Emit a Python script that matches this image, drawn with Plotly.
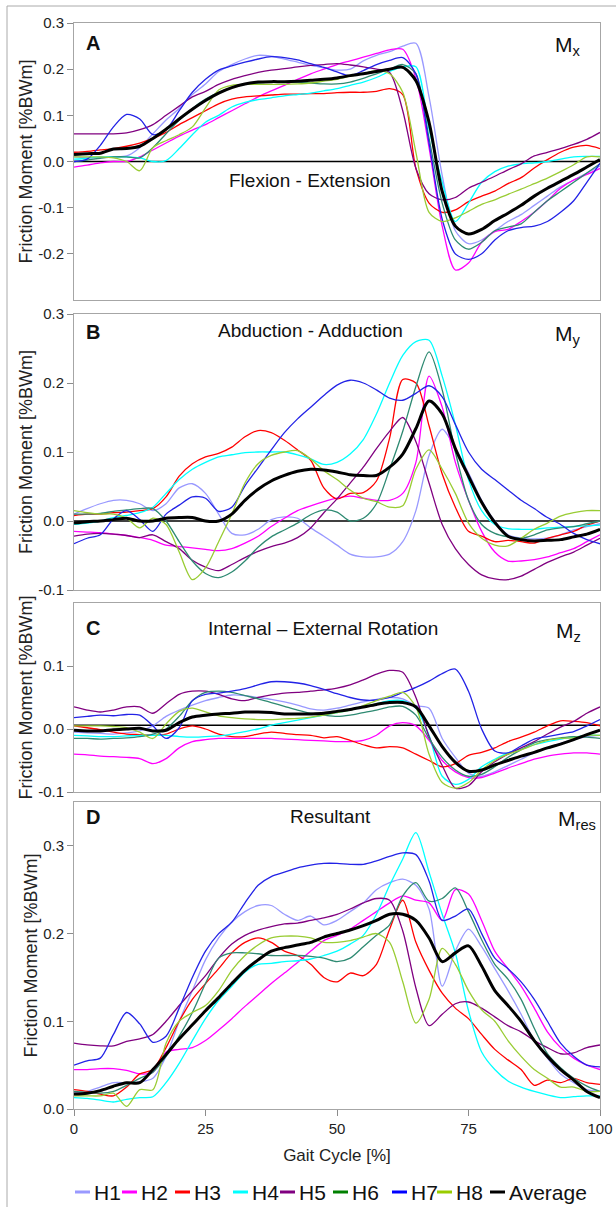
import plotly.graph_objects as go

# ---------------- data ----------------
X = [0, 2.5, 5, 7.5, 10, 12.5, 15, 17.5, 20, 22.5, 25, 27.5, 30, 32.5, 35, 37.5, 40,
     42.5, 45, 47.5, 50, 52.5, 55, 57.5, 60, 62.5, 65, 67.5, 70, 72.5, 75, 77.5, 80,
     82.5, 85, 87.5, 90, 92.5, 95, 97.5, 100]

NAMES = ["H1", "H2", "H3", "H4", "H5", "H6", "H7", "H8", "Average"]

# Panel A  (Mx, flexion - extension)
MX_H1 = [0.010, 0.008, 0.008, 0.010, 0.012, 0.030, 0.060, 0.090, 0.115, 0.145, 0.168, 0.195, 0.210, 0.222, 0.230, 0.228, 0.222, 0.215, 0.208, 0.203, 0.198, 0.200, 0.218, 0.230, 0.238, 0.250, 0.256, 0.140, -0.030, -0.150, -0.178, -0.170, -0.150, -0.130, -0.115, -0.095, -0.075, -0.055, -0.040, -0.025, -0.010]
MX_H2 = [-0.012, -0.008, -0.003, 0.000, 0.000, 0.010, 0.025, 0.040, 0.055, 0.068, 0.080, 0.095, 0.110, 0.125, 0.140, 0.153, 0.165, 0.178, 0.190, 0.200, 0.210, 0.218, 0.226, 0.234, 0.242, 0.243, 0.180, 0.030, -0.140, -0.235, -0.220, -0.175, -0.152, -0.147, -0.130, -0.110, -0.085, -0.058, -0.040, -0.028, -0.015]
MX_H3 = [0.020, 0.022, 0.025, 0.028, 0.033, 0.040, 0.050, 0.063, 0.080, 0.095, 0.110, 0.125, 0.135, 0.140, 0.142, 0.144, 0.146, 0.146, 0.147, 0.147, 0.149, 0.150, 0.150, 0.152, 0.158, 0.145, -0.015, -0.090, -0.110, -0.105, -0.087, -0.075, -0.064, -0.048, -0.035, -0.014, 0.004, 0.020, 0.031, 0.035, 0.028]
MX_H4 = [0.005, 0.007, 0.010, 0.010, 0.010, 0.008, 0.000, 0.002, 0.028, 0.058, 0.085, 0.100, 0.118, 0.128, 0.134, 0.138, 0.142, 0.145, 0.148, 0.153, 0.158, 0.165, 0.172, 0.182, 0.195, 0.205, 0.205, 0.070, -0.045, -0.130, -0.090, -0.045, -0.022, -0.010, -0.005, -0.003, 0.000, 0.005, 0.010, 0.011, 0.011]
MX_H5 = [0.060, 0.060, 0.060, 0.060, 0.062, 0.069, 0.080, 0.100, 0.120, 0.140, 0.152, 0.167, 0.178, 0.186, 0.193, 0.198, 0.201, 0.205, 0.208, 0.210, 0.212, 0.209, 0.205, 0.200, 0.193, 0.110, -0.015, -0.070, -0.083, -0.078, -0.058, -0.045, -0.032, -0.018, -0.005, 0.012, 0.020, 0.028, 0.037, 0.048, 0.063]
MX_H6 = [0.000, 0.003, 0.007, 0.010, 0.010, 0.008, 0.030, 0.060, 0.090, 0.115, 0.135, 0.150, 0.160, 0.167, 0.170, 0.172, 0.172, 0.172, 0.170, 0.168, 0.168, 0.172, 0.180, 0.190, 0.200, 0.210, 0.190, 0.050, -0.090, -0.170, -0.190, -0.175, -0.150, -0.142, -0.135, -0.110, -0.085, -0.065, -0.045, -0.025, -0.005]
MX_H7 = [0.000, 0.005, 0.035, 0.075, 0.102, 0.092, 0.058, 0.069, 0.110, 0.150, 0.178, 0.198, 0.207, 0.215, 0.222, 0.227, 0.225, 0.220, 0.212, 0.204, 0.194, 0.186, 0.197, 0.210, 0.219, 0.225, 0.190, 0.040, -0.125, -0.200, -0.212, -0.200, -0.170, -0.150, -0.143, -0.140, -0.130, -0.110, -0.085, -0.045, -0.004]
MX_H8 = [0.010, 0.010, 0.010, 0.008, 0.000, -0.020, 0.030, 0.045, 0.058, 0.075, 0.116, 0.155, 0.165, 0.167, 0.167, 0.167, 0.167, 0.168, 0.170, 0.174, 0.178, 0.185, 0.190, 0.197, 0.190, 0.150, 0.020, -0.110, -0.130, -0.122, -0.108, -0.093, -0.083, -0.071, -0.060, -0.048, -0.036, -0.022, -0.007, 0.010, 0.010]
MX_AVG = [0.015, 0.017, 0.018, 0.027, 0.028, 0.033, 0.050, 0.070, 0.092, 0.113, 0.132, 0.148, 0.160, 0.168, 0.172, 0.173, 0.173, 0.174, 0.176, 0.178, 0.181, 0.186, 0.190, 0.195, 0.200, 0.204, 0.175, 0.085, -0.065, -0.140, -0.157, -0.147, -0.128, -0.112, -0.095, -0.075, -0.058, -0.043, -0.028, -0.012, 0.004]

# Panel B  (My, abduction - adduction)
MY_H1 = [0.010, 0.018, 0.025, 0.030, 0.030, 0.025, 0.015, 0.025, 0.048, 0.054, 0.040, 0.010, -0.018, -0.020, -0.012, 0.002, 0.006, 0.004, -0.010, -0.022, -0.035, -0.048, -0.052, -0.052, -0.048, -0.030, 0.015, 0.095, 0.133, 0.105, 0.070, 0.030, 0.000, -0.020, -0.025, -0.026, -0.025, -0.020, -0.013, -0.008, -0.004]
MY_H2 = [-0.015, -0.016, -0.017, -0.019, -0.021, -0.024, -0.028, -0.035, -0.037, -0.039, -0.041, -0.043, -0.040, -0.032, -0.022, -0.008, 0.004, 0.015, 0.022, 0.028, 0.033, 0.036, 0.033, 0.030, 0.030, 0.040, 0.085, 0.210, 0.165, 0.085, 0.030, -0.015, -0.045, -0.058, -0.058, -0.056, -0.052, -0.046, -0.040, -0.030, -0.020]
MY_H3 = [0.008, 0.010, 0.010, 0.012, 0.013, 0.015, 0.018, 0.035, 0.065, 0.083, 0.093, 0.098, 0.107, 0.122, 0.131, 0.128, 0.117, 0.103, 0.088, 0.048, 0.032, 0.040, 0.041, 0.058, 0.120, 0.205, 0.200, 0.138, 0.068, 0.020, -0.015, -0.022, -0.030, -0.028, -0.030, -0.032, -0.025, -0.020, -0.015, -0.006, 0.000]
MY_H4 = [-0.005, -0.003, 0.000, 0.005, 0.008, 0.012, 0.020, 0.040, 0.060, 0.075, 0.085, 0.093, 0.096, 0.099, 0.100, 0.100, 0.100, 0.096, 0.090, 0.082, 0.085, 0.097, 0.118, 0.155, 0.200, 0.240, 0.260, 0.262, 0.210, 0.140, 0.060, 0.015, -0.005, -0.011, -0.012, -0.012, -0.010, -0.009, -0.008, -0.007, -0.006]
MY_H5 = [-0.022, -0.019, -0.018, -0.019, -0.021, -0.024, -0.020, -0.030, -0.040, -0.057, -0.067, -0.072, -0.063, -0.053, -0.044, -0.037, -0.032, -0.024, -0.010, 0.012, 0.032, 0.055, 0.078, 0.105, 0.130, 0.150, 0.115, 0.055, -0.005, -0.040, -0.063, -0.078, -0.084, -0.085, -0.080, -0.070, -0.060, -0.052, -0.045, -0.035, -0.025]
MY_H6 = [0.010, 0.010, 0.011, 0.014, 0.016, 0.018, 0.018, 0.000, -0.030, -0.058, -0.076, -0.082, -0.074, -0.058, -0.038, -0.023, -0.013, -0.003, 0.009, 0.016, 0.013, 0.000, 0.004, 0.025, 0.075, 0.130, 0.195, 0.245, 0.190, 0.100, 0.030, -0.005, -0.018, -0.023, -0.025, -0.020, -0.013, -0.010, -0.008, -0.004, 0.000]
MY_H7 = [-0.033, -0.025, -0.020, 0.003, 0.015, 0.002, -0.015, 0.010, 0.023, 0.035, 0.033, 0.014, 0.020, 0.051, 0.077, 0.103, 0.128, 0.148, 0.165, 0.182, 0.197, 0.204, 0.200, 0.190, 0.178, 0.175, 0.185, 0.196, 0.180, 0.140, 0.100, 0.075, 0.060, 0.045, 0.030, 0.018, 0.005, -0.005, -0.018, -0.027, -0.033]
MY_H8 = [0.015, 0.012, 0.010, 0.010, 0.004, -0.010, 0.004, -0.005, -0.045, -0.085, -0.068, -0.030, 0.010, 0.055, 0.083, 0.095, 0.100, 0.102, 0.090, 0.073, 0.060, 0.045, 0.033, 0.028, 0.020, 0.022, 0.075, 0.103, 0.075, 0.040, -0.003, -0.025, -0.035, -0.036, -0.025, -0.012, -0.003, 0.007, 0.012, 0.015, 0.015]
MY_AVG = [-0.003, -0.001, 0.000, 0.002, 0.004, 0.000, 0.000, 0.004, 0.005, 0.005, 0.000, 0.000, 0.010, 0.030, 0.046, 0.058, 0.066, 0.072, 0.075, 0.074, 0.071, 0.067, 0.066, 0.066, 0.078, 0.097, 0.134, 0.174, 0.155, 0.105, 0.065, 0.027, -0.002, -0.022, -0.027, -0.029, -0.028, -0.027, -0.023, -0.019, -0.012]

# Panel C  (Mz, internal - external rotation)
MZ_H1 = [-0.005, -0.006, -0.007, -0.008, -0.006, -0.003, 0.005, 0.020, 0.030, 0.038, 0.045, 0.050, 0.054, 0.053, 0.050, 0.047, 0.043, 0.038, 0.032, 0.030, 0.033, 0.038, 0.043, 0.047, 0.050, 0.048, 0.037, 0.033, -0.015, -0.045, -0.070, -0.075, -0.068, -0.058, -0.048, -0.038, -0.030, -0.023, -0.017, -0.012, -0.010]
MZ_H2 = [-0.040, -0.041, -0.043, -0.044, -0.045, -0.047, -0.055, -0.047, -0.030, -0.020, -0.017, -0.015, -0.015, -0.015, -0.015, -0.015, -0.016, -0.017, -0.018, -0.019, -0.020, -0.020, -0.018, -0.010, 0.005, 0.010, 0.005, -0.018, -0.050, -0.068, -0.077, -0.077, -0.070, -0.062, -0.055, -0.048, -0.043, -0.040, -0.038, -0.038, -0.040]
MZ_H3 = [0.005, 0.002, -0.001, -0.005, -0.008, -0.009, -0.010, -0.008, 0.000, 0.005, 0.000, -0.008, -0.012, -0.012, -0.008, -0.005, -0.007, -0.009, -0.010, -0.014, -0.012, -0.018, -0.025, -0.030, -0.028, -0.030, -0.040, -0.050, -0.060, -0.055, -0.042, -0.037, -0.030, -0.020, -0.013, -0.005, 0.005, 0.013, 0.012, 0.010, 0.005]
MZ_H4 = [-0.010, -0.011, -0.012, -0.012, -0.011, -0.010, -0.010, -0.010, -0.012, -0.013, -0.012, -0.011, -0.008, -0.004, 0.000, 0.006, 0.010, 0.014, 0.018, 0.022, 0.026, 0.030, 0.035, 0.040, 0.045, 0.045, 0.033, -0.010, -0.075, -0.088, -0.080, -0.060, -0.048, -0.038, -0.032, -0.025, -0.020, -0.016, -0.013, -0.010, -0.010]
MZ_H5 = [0.035, 0.030, 0.027, 0.030, 0.035, 0.035, 0.025, 0.040, 0.055, 0.060, 0.060, 0.055, 0.048, 0.045, 0.050, 0.054, 0.057, 0.058, 0.060, 0.062, 0.065, 0.070, 0.078, 0.087, 0.093, 0.090, 0.050, -0.012, -0.058, -0.094, -0.090, -0.068, -0.052, -0.040, -0.030, -0.020, -0.008, 0.003, 0.012, 0.025, 0.035]
MZ_H6 = [-0.015, -0.015, -0.016, -0.015, -0.014, -0.012, -0.008, 0.000, 0.020, 0.045, 0.058, 0.060, 0.058, 0.053, 0.048, 0.042, 0.036, 0.030, 0.025, 0.022, 0.020, 0.022, 0.026, 0.030, 0.035, 0.036, 0.022, -0.015, -0.045, -0.065, -0.075, -0.072, -0.060, -0.045, -0.033, -0.022, -0.017, -0.014, -0.012, -0.013, -0.015]
MZ_H7 = [0.018, 0.020, 0.022, 0.021, 0.023, 0.022, 0.005, -0.015, 0.002, 0.045, 0.055, 0.057, 0.060, 0.064, 0.070, 0.075, 0.075, 0.073, 0.069, 0.063, 0.056, 0.050, 0.046, 0.046, 0.050, 0.058, 0.066, 0.076, 0.088, 0.095, 0.060, 0.000, -0.035, -0.038, -0.027, -0.016, -0.012, -0.008, -0.004, 0.005, 0.015]
MZ_H8 = [0.005, 0.005, 0.005, 0.004, 0.002, -0.005, -0.015, 0.008, 0.028, 0.033, 0.027, 0.021, 0.018, 0.016, 0.015, 0.015, 0.016, 0.017, 0.019, 0.022, 0.026, 0.030, 0.037, 0.045, 0.052, 0.058, 0.035, -0.040, -0.085, -0.094, -0.085, -0.065, -0.050, -0.040, -0.033, -0.025, -0.018, -0.015, -0.014, -0.010, -0.010]
MZ_AVG = [-0.002, -0.003, -0.003, -0.001, 0.000, 0.001, -0.003, -0.002, 0.010, 0.019, 0.022, 0.024, 0.025, 0.027, 0.027, 0.026, 0.024, 0.024, 0.024, 0.025, 0.028, 0.031, 0.035, 0.039, 0.042, 0.042, 0.035, 0.005, -0.028, -0.053, -0.067, -0.065, -0.057, -0.050, -0.043, -0.037, -0.030, -0.024, -0.017, -0.009, -0.002]

# Panel D  (Mres, resultant)
MR_H1 = [0.018, 0.020, 0.025, 0.030, 0.030, 0.031, 0.035, 0.060, 0.100, 0.135, 0.170, 0.195, 0.213, 0.225, 0.232, 0.232, 0.222, 0.215, 0.220, 0.210, 0.215, 0.225, 0.235, 0.250, 0.258, 0.262, 0.255, 0.228, 0.140, 0.180, 0.205, 0.185, 0.160, 0.135, 0.108, 0.078, 0.058, 0.040, 0.030, 0.022, 0.020]
MR_H2 = [0.045, 0.045, 0.046, 0.046, 0.044, 0.040, 0.042, 0.065, 0.068, 0.070, 0.078, 0.090, 0.103, 0.117, 0.130, 0.143, 0.155, 0.167, 0.180, 0.192, 0.198, 0.205, 0.215, 0.225, 0.235, 0.243, 0.238, 0.235, 0.215, 0.250, 0.245, 0.215, 0.180, 0.160, 0.140, 0.115, 0.088, 0.070, 0.058, 0.050, 0.045]
MR_H3 = [0.022, 0.020, 0.017, 0.015, 0.025, 0.040, 0.045, 0.070, 0.100, 0.125, 0.143, 0.160, 0.178, 0.190, 0.195, 0.190, 0.180, 0.175, 0.165, 0.150, 0.145, 0.155, 0.152, 0.165, 0.205, 0.238, 0.190, 0.158, 0.132, 0.115, 0.103, 0.085, 0.068, 0.056, 0.045, 0.027, 0.033, 0.030, 0.035, 0.030, 0.028]
MR_H4 = [0.013, 0.012, 0.010, 0.008, 0.011, 0.013, 0.014, 0.030, 0.052, 0.078, 0.103, 0.124, 0.140, 0.156, 0.165, 0.166, 0.168, 0.169, 0.171, 0.175, 0.180, 0.188, 0.198, 0.222, 0.255, 0.285, 0.315, 0.270, 0.222, 0.178, 0.112, 0.065, 0.045, 0.032, 0.025, 0.020, 0.016, 0.013, 0.014, 0.015, 0.015]
MR_H5 = [0.075, 0.073, 0.072, 0.072, 0.077, 0.080, 0.085, 0.100, 0.118, 0.135, 0.152, 0.172, 0.188, 0.198, 0.204, 0.208, 0.211, 0.212, 0.215, 0.218, 0.222, 0.228, 0.235, 0.240, 0.238, 0.203, 0.138, 0.095, 0.108, 0.120, 0.122, 0.115, 0.105, 0.095, 0.088, 0.078, 0.070, 0.063, 0.064, 0.070, 0.073]
MR_H6 = [0.020, 0.019, 0.018, 0.020, 0.027, 0.035, 0.042, 0.060, 0.083, 0.110, 0.143, 0.172, 0.178, 0.178, 0.177, 0.175, 0.175, 0.175, 0.174, 0.172, 0.168, 0.172, 0.185, 0.198, 0.210, 0.243, 0.258, 0.237, 0.240, 0.252, 0.225, 0.193, 0.165, 0.148, 0.125, 0.092, 0.063, 0.047, 0.035, 0.026, 0.020]
MR_H7 = [0.050, 0.055, 0.058, 0.085, 0.110, 0.097, 0.076, 0.083, 0.115, 0.150, 0.180, 0.200, 0.213, 0.235, 0.255, 0.265, 0.270, 0.275, 0.278, 0.280, 0.280, 0.279, 0.279, 0.283, 0.288, 0.292, 0.290, 0.260, 0.215, 0.220, 0.228, 0.200, 0.172, 0.160, 0.145, 0.125, 0.100, 0.075, 0.060, 0.050, 0.048]
MR_H8 = [0.015, 0.015, 0.015, 0.018, 0.003, 0.022, 0.022, 0.075, 0.100, 0.110, 0.118, 0.135, 0.158, 0.175, 0.187, 0.195, 0.197, 0.197, 0.195, 0.190, 0.190, 0.192, 0.196, 0.200, 0.190, 0.145, 0.098, 0.125, 0.183, 0.165, 0.135, 0.113, 0.100, 0.078, 0.060, 0.045, 0.035, 0.025, 0.025, 0.020, 0.020]
MR_AVG = [0.017, 0.018, 0.021, 0.026, 0.030, 0.030, 0.045, 0.062, 0.080, 0.096, 0.112, 0.127, 0.143, 0.158, 0.170, 0.180, 0.184, 0.187, 0.190, 0.196, 0.200, 0.204, 0.209, 0.215, 0.222, 0.222, 0.215, 0.195, 0.168, 0.178, 0.186, 0.163, 0.135, 0.118, 0.100, 0.078, 0.060, 0.045, 0.033, 0.020, 0.013]

X_TICKS = [0, 25, 50, 75, 100]

# ---------------- styling ----------------
COLORS = {"H1": "#9999FF", "H2": "#FF00FF", "H3": "#FF0000", "H4": "#00FFFF",
          "H5": "#800080", "H6": "#2E8A72", "H7": "#2222E6", "H8": "#99CC33",
          "Average": "#000000"}
LEGEND_COLORS = {"H1": "#9999FF", "H2": "#FF00FF", "H3": "#FF0000", "H4": "#00FFFF",
                 "H5": "#800080", "H6": "#008000", "H7": "#0000FF", "H8": "#99CC00",
                 "Average": "#000000"}
FONT = "Liberation Sans, Arial, Helvetica, sans-serif"

FIG_W, FIG_H = 616, 1207
ML, MR, MT, MB = 74, 16, 23, 98
PW = FIG_W - ML - MR
PH = FIG_H - MT - MB


def px_x(px):
    return (px - ML) / PW


def px_y(py):
    return (FIG_H - MB - py) / PH


PANELS = [
    dict(series=[MX_H1, MX_H2, MX_H3, MX_H4, MX_H5, MX_H6, MX_H7, MX_H8, MX_AVG],
         letter="A", label="Flexion - Extension", moment="M<sub>x</sub>",
         yrange=[-0.3, 0.3], yticks=[-0.2, -0.1, 0.0, 0.1, 0.2, 0.3], zero=0.0,
         top=23, bottom=300, letter_y=43, label_xy=(310, 180), m_xy=(583, 46)),
    dict(series=[MY_H1, MY_H2, MY_H3, MY_H4, MY_H5, MY_H6, MY_H7, MY_H8, MY_AVG],
         letter="B", label="Abduction - Adduction", moment="M<sub>y</sub>",
         yrange=[-0.1, 0.3], yticks=[-0.1, 0.0, 0.1, 0.2, 0.3], zero=0.0,
         top=314, bottom=590, letter_y=332, label_xy=(310, 330), m_xy=(583, 335)),
    dict(series=[MZ_H1, MZ_H2, MZ_H3, MZ_H4, MZ_H5, MZ_H6, MZ_H7, MZ_H8, MZ_AVG],
         letter="C", label="Internal \u2013 External Rotation", moment="M<sub>z</sub>",
         yrange=[-0.1, 0.2], yticks=[-0.1, 0.0, 0.1], zero=0.006,
         top=603, bottom=792, letter_y=628, label_xy=(323, 628), m_xy=(583, 632)),
    dict(series=[MR_H1, MR_H2, MR_H3, MR_H4, MR_H5, MR_H6, MR_H7, MR_H8, MR_AVG],
         letter="D", label="Resultant", moment="M<sub>res</sub>",
         yrange=[0.0, 0.35], yticks=[0.0, 0.1, 0.2, 0.3], zero=None,
         top=802, bottom=1109, letter_y=817, label_xy=(330, 816), m_xy=(598, 820)),
]

fig = go.Figure()
annotations = []
shapes = []
layout_axes = {}

for i, p in enumerate(PANELS):
    n = "" if i == 0 else str(i + 1)
    xa, ya = "x" + n, "y" + n
    for name, vals in zip(NAMES, p["series"]):
        avg = name == "Average"
        fig.add_trace(go.Scatter(
            x=X, y=vals, mode="lines", name=name, showlegend=False,
            xaxis=xa, yaxis=ya, hoverinfo="skip",
            line=dict(color=COLORS[name], width=3 if avg else 1.3,
                      shape="spline", smoothing=0.8)))
    last = i == len(PANELS) - 1
    xaxis = dict(
        domain=[0, 1], anchor=ya, range=[0, 100], showgrid=False, zeroline=False,
        automargin=False,
        showline=True, mirror=True, linecolor="#A6A6A6", linewidth=1,
        ticks="outside" if last else "", ticklen=6, tickcolor="#8C8C8C",
        tickvals=X_TICKS, showticklabels=last,
        tickfont=dict(size=15, color="#222222", family=FONT))
    if last:
        xaxis["title"] = dict(text="Gait Cycle [%]",
                              font=dict(size=17, color="#222222", family=FONT),
                              standoff=13)
    layout_axes["xaxis" + n] = xaxis
    layout_axes["yaxis" + n] = dict(
        domain=[px_y(p["bottom"]), px_y(p["top"])], anchor=xa, range=p["yrange"],
        showgrid=False, zeroline=False, showline=True, mirror=True, automargin=False,
        linecolor="#A6A6A6", linewidth=1, ticks="outside", ticklen=6,
        tickcolor="#8C8C8C", tickvals=p["yticks"],
        ticktext=["%.1f" % v for v in p["yticks"]],
        tickfont=dict(size=15, color="#222222", family=FONT),
        title=dict(text="Friction Moment [%BWm]",
                   font=dict(size=18, color="#222222", family=FONT), standoff=0))
    if p["zero"] is not None:
        shapes.append(dict(type="line", xref=xa, yref=ya, x0=0, x1=100,
                           y0=p["zero"], y1=p["zero"],
                           line=dict(color="#000000", width=1.5), layer="below"))
    annotations.append(dict(text="<b>%s</b>" % p["letter"], xref="paper", yref="paper",
                            x=px_x(84), y=px_y(p["letter_y"]), xanchor="left",
                            yanchor="middle", showarrow=False,
                            font=dict(size=20, color="#111111", family=FONT)))
    annotations.append(dict(text=p["label"], xref="paper", yref="paper",
                            x=px_x(p["label_xy"][0]), y=px_y(p["label_xy"][1]),
                            xanchor="center", yanchor="middle", showarrow=False,
                            font=dict(size=19, color="#111111", family=FONT)))
    annotations.append(dict(text=p["moment"], xref="paper", yref="paper",
                            x=px_x(p["m_xy"][0]), y=px_y(p["m_xy"][1]),
                            xanchor="right", yanchor="middle", showarrow=False,
                            font=dict(size=21, color="#111111", family=FONT)))

# legend (one row under the x-axis title)
LEGEND_X = [75, 122, 175, 233, 280, 333, 392, 437, 490]
LEGEND_Y = 1192
for name, lx in zip(NAMES, LEGEND_X):
    shapes.append(dict(type="line", xref="paper", yref="paper",
                       x0=px_x(lx), x1=px_x(lx + 15), y0=px_y(LEGEND_Y), y1=px_y(LEGEND_Y),
                       line=dict(color=LEGEND_COLORS[name], width=3)))
    annotations.append(dict(text=name, xref="paper", yref="paper",
                            x=px_x(lx + 17), y=px_y(LEGEND_Y), xanchor="left",
                            yanchor="middle", showarrow=False,
                            font=dict(size=21, color="#111111", family=FONT)))

# outer frame
shapes.append(dict(type="rect", xref="paper", yref="paper",
                   x0=px_x(7), x1=px_x(640), y0=px_y(1230), y1=px_y(6),
                   line=dict(color="#AAAAAA", width=1), layer="below"))

fig.update_layout(
    width=FIG_W, height=FIG_H, autosize=False,
    margin=dict(l=ML, r=MR, t=MT, b=MB, autoexpand=False),
    paper_bgcolor="white", plot_bgcolor="white",
    font=dict(family=FONT, color="#222222"),
    showlegend=False, annotations=annotations, shapes=shapes,
    **layout_axes)

fig.write_html("out.html",
               config={"displayModeBar": False, "staticPlot": True},
               post_script="document.body.style.margin='0';"
                           "document.body.style.overflow='hidden';")
